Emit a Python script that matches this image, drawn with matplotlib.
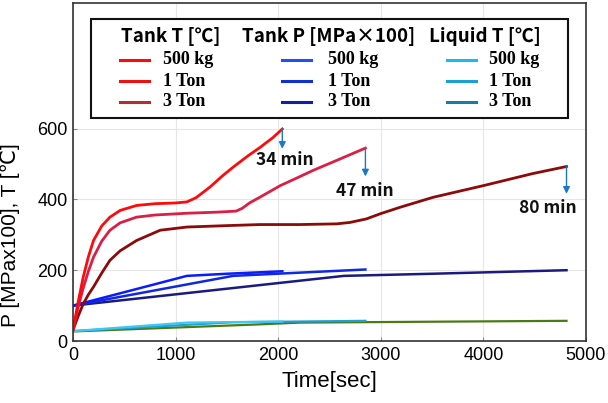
import matplotlib.pyplot as plt
from matplotlib.lines import Line2D
from matplotlib.patches import Rectangle

plt.rcParams['font.family'] = ['Liberation Sans', 'DejaVu Sans']

# Tank temperature [C]
t_tank_500 = [0, 50, 100, 150, 200, 280, 360, 460, 620, 800, 1000, 1110, 1200, 1335, 1450, 1560, 1700, 1823, 1950, 2040]
T_tank_500 = [31, 110, 181, 238, 284, 325, 350, 369, 383, 388, 390, 393, 405, 435, 465, 491, 522, 547, 575, 599]
t_tank_1t = [0, 50, 100, 150, 200, 280, 360, 460, 620, 800, 1110, 1400, 1590, 1650, 1720, 1820, 2020, 2200, 2340, 2600, 2850]
T_tank_1t = [31, 95, 150, 197, 237, 282, 313, 334, 350, 356, 361, 364, 367, 375, 390, 406, 439, 463, 482, 514, 545]
t_tank_3t = [0, 50, 100, 150, 200, 280, 360, 460, 620, 850, 1110, 1500, 1820, 2210, 2570, 2700, 2860, 3000, 3190, 3510, 4000, 4480, 4810]
T_tank_3t = [31, 70, 105, 131, 153, 192, 228, 255, 284, 313, 322, 326, 329, 329, 331, 335, 345, 360, 378, 406, 439, 473, 493]

# Tank pressure [MPa x 100]
t_p_500 = [0, 1110, 1500, 2040]
P_p_500 = [100, 184, 190, 197]
t_p_1t = [0, 1560, 2200, 2850]
P_p_1t = [100, 184, 193, 202]
t_p_3t = [0, 2640, 3500, 4810]
P_p_3t = [100, 184, 190, 200]

# Liquid temperature [C]
t_liq_500 = [0, 1110, 2040]
T_liq_500 = [28, 52, 55]
t_liq_1t = [0, 1560, 2850]
T_liq_1t = [28, 53, 57]
t_liq_3t = [0, 1820, 2210, 4810]
T_liq_3t = [27, 47, 52, 57]

W, H = 608, 403
fig = plt.figure(figsize=(W / 100, H / 100), dpi=100)
ax = fig.add_axes([73 / W, 1 - 341 / H, 513 / W, 338 / H])

ax.plot(t_liq_3t, T_liq_3t, color='#4a7a14', lw=1.6)
ax.plot(t_liq_1t, T_liq_1t, color='#1e9fd8', lw=1.6)
ax.plot(t_liq_500, T_liq_500, color='#3cc8f0', lw=1.6)
ax.plot(t_p_3t, P_p_3t, color='#1a1a80', lw=1.8)
ax.plot(t_p_1t, P_p_1t, color='#1028e0', lw=1.8)
ax.plot(t_p_500, P_p_500, color='#0a1cff', lw=1.8)
ax.plot(t_tank_3t, T_tank_3t, color='#8b0a0a', lw=2.0)
ax.plot(t_tank_1t, T_tank_1t, color='#dc1e46', lw=2.0)
ax.plot(t_tank_500, T_tank_500, color='#ff0a0a', lw=2.0)

bold_sans = ['Noto Sans CJK KR', 'DejaVu Sans']
arrows = [(2040, 599, 543, '34 min', 2066, 510),
          (2850, 545, 465, '47 min', 2846, 423),
          (4810, 493, 416, '80 min', 4630, 377)]
for x, y0, y1, label, tx, ty in arrows:
    ax.annotate('', xy=(x, y1), xytext=(x, y0),
                arrowprops=dict(arrowstyle='-|>', color='#1a78c8', lw=1.0,
                                mutation_scale=10, shrinkA=0, shrinkB=0))
    ax.text(tx, ty, label, ha='center', va='center', fontsize=12.5,
            fontweight='bold', family=bold_sans, color='#111111')

ax.set_xlim(0, 5000)
ax.set_ylim(0, 955)
ax.set_xticks([0, 1000, 2000, 3000, 4000, 5000])
ax.set_yticks([0, 200, 400, 600])
ax.tick_params(labelsize=13, direction='in', length=3, color='#888888', pad=4)
ax.grid(True, color='#e6e6e6', lw=0.8)
ax.set_axisbelow(True)
for s in ax.spines.values():
    s.set_color('#333333')
    s.set_linewidth(1.2)
ax.set_xlabel('Time[sec]', fontsize=16, labelpad=5)
ax.set_ylabel('P [MPax100], T [℃]', fontsize=15)
ax.yaxis.set_label_coords(-0.103, 0.314)

# hand-made legend box, positions in pixels of the figure
def fx(px):
    return px / W

def fy(py):
    return 1 - py / H

fig.add_artist(Rectangle((fx(91), fy(118)), fx(568) - fx(91), fy(19) - fy(118),
                         transform=fig.transFigure, fill=True, facecolor='white',
                         edgecolor='#111111', lw=1.5, zorder=5))
headers = ['Tank T [℃]', 'Tank P [MPa\u00d7100]', 'Liquid T [℃]']
header_x = [121, 242, 429]
handle_x = [120, 282, 447]
text_x = [163, 328, 489]
row_y = [60, 81, 102]
names = ['500 kg', '1 Ton', '3 Ton']
leg_colors = [['#ff0a0a', '#f01010', '#b03030'],
              ['#2050f0', '#1030d0', '#1020a0'],
              ['#20b8ec', '#1aa0d4', '#1a7aa0']]
for j in range(3):
    fig.text(fx(header_x[j]), fy(37), headers[j], ha='left', va='center',
             fontsize=13.5, fontweight='bold', family=bold_sans, zorder=6)
    for k in range(3):
        fig.add_artist(Line2D([fx(handle_x[j]), fx(handle_x[j] + 29)],
                              [fy(row_y[k]), fy(row_y[k])],
                              transform=fig.transFigure, color=leg_colors[j][k],
                              lw=2.2, zorder=6))
        fig.text(fx(text_x[j]), fy(row_y[k]), names[k], ha='left', va='center',
                 fontsize=13, fontweight='bold', family='Liberation Serif', zorder=6)

fig.savefig('out.png', dpi=100)
